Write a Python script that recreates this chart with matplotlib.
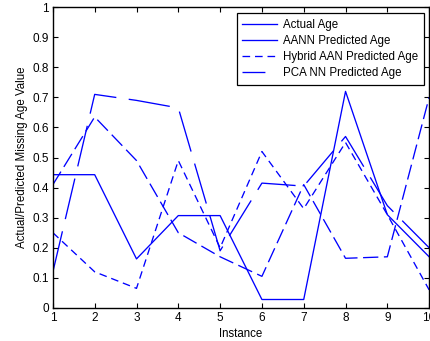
import matplotlib
matplotlib.use('Agg')
import matplotlib.pyplot as plt
from matplotlib.lines import Line2D

# values
instance = [1, 2, 3, 4, 5, 6, 7, 8, 9, 10]
actual = [0.443, 0.443, 0.163, 0.307, 0.307, 0.028, 0.028, 0.72, 0.31, 0.17]
aann = [0.41, 0.635, 0.49, 0.25, 0.17, 0.105, 0.41, 0.165, 0.17, 0.70]
hybrid = [0.25, 0.12, 0.065, 0.49, 0.20, 0.52, 0.33, 0.55, 0.31, 0.06]
pca = [0.12, 0.71, 0.69, 0.665, 0.19, 0.415, 0.405, 0.57, 0.34, 0.20]
labels = ["Actual Age", "AANN Predicted Age", "Hybrid AAN Predicted Age", "PCA NN Predicted Age"]

plt.rcParams['font.family'] = ['Liberation Sans', 'DejaVu Sans']
plt.rcParams['font.size'] = 8
plt.rcParams['lines.scale_dashes'] = False

fig = plt.figure(figsize=(4.3, 3.41), dpi=100)
ax = fig.add_axes([0.123, 0.097, 0.875, 0.882])

blue = '#0000ff'
lw = 0.95
ax.plot(instance, actual, color=blue, lw=lw, linestyle='-')
ax.plot(instance, aann, color=blue, lw=lw, linestyle=(0, (11, 4)))
ax.plot(instance, hybrid, color=blue, lw=lw, linestyle=(0, (5.5, 3.5)))
ax.plot(instance, pca, color=blue, lw=lw, linestyle=(0, (30, 9)))

ax.set_xlim(1, 10)
ax.set_ylim(0, 1)
ax.set_xticks(instance)
ax.set_yticks([i / 10 for i in range(11)])
ax.set_yticklabels(['0', '0.1', '0.2', '0.3', '0.4', '0.5', '0.6', '0.7', '0.8', '0.9', '1'])
ax.tick_params(direction='in', top=True, right=True, length=3.5, width=0.8, labelsize=8.5, pad=3)
for s in ax.spines.values():
    s.set_linewidth(1.0)

ax.set_xlabel("Instance", fontsize=8.3, labelpad=3)
ax.set_ylabel("Actual/Predicted Missing Age Value", fontsize=8.3, labelpad=3)

handles = [
    Line2D([], [], color=blue, lw=lw, linestyle='-'),
    Line2D([], [], color=blue, lw=lw, linestyle='-'),
    Line2D([], [], color=blue, lw=lw, linestyle=(0, (5.5, 3.5))),
    Line2D([], [], color=blue, lw=lw, linestyle=(0, (16.5, 40))),
]
leg = ax.legend(handles, labels, loc='upper right', bbox_to_anchor=(0.987, 0.98),
                borderaxespad=0, fancybox=False, edgecolor='black', framealpha=1,
                prop={'size': 8.3}, handlelength=3.0, handletextpad=0.55, labelspacing=0.36,
                borderpad=0.5)
leg.get_frame().set_linewidth(0.9)

fig.savefig('out.png', dpi=100)
